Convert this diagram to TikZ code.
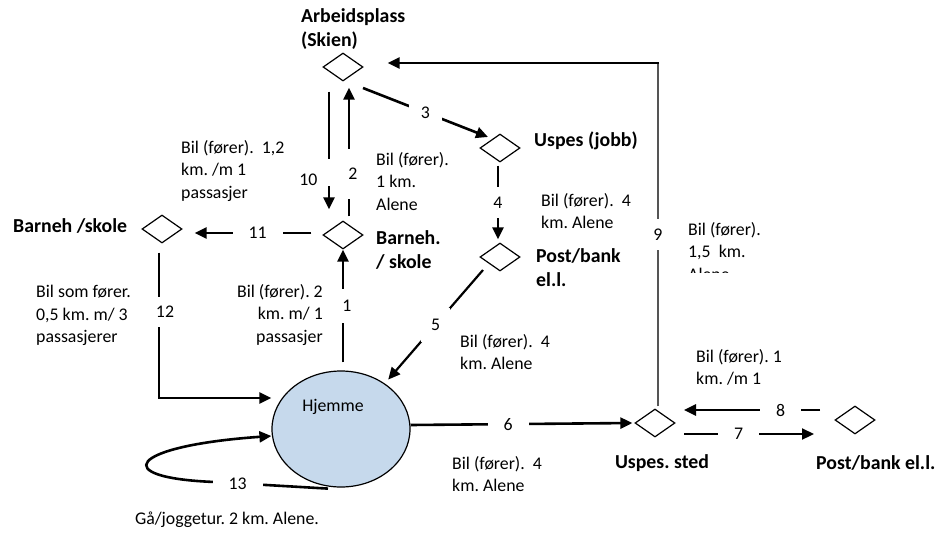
\documentclass[tikz,border=0pt]{standalone}
\usepackage{fontspec}
\setmainfont{Carlito}
\usetikzlibrary{arrows.meta,shapes.geometric,calc}
\definecolor{homefill}{RGB}{198,217,236}
\definecolor{linegray}{RGB}{85,85,85}
\frenchspacing
\begin{document}
\begin{tikzpicture}[x=1pt,y=-1pt,
  place/.style={diamond, draw, line width=1.2pt, fill=white,
    minimum width=40pt, minimum height=28pt, inner sep=0pt},
  home/.style={ellipse, draw, line width=1.2pt, fill=homefill,
    minimum width=138pt, minimum height=116pt, inner sep=0pt},
  txt/.style={inner sep=0pt, align=left, font=\fontsize{17.8}{22.5}\selectfont},
  ttl/.style={inner sep=0pt, align=left, font=\bfseries\fontsize{19.8}{24}\selectfont},
  conn/.style={line width=2.6pt},
  arr/.style={conn, -{Triangle[length=12pt,width=11pt]}},
  gap/.style={fill=white, inner xsep=16pt, inner ysep=10pt,
    font=\fontsize{17.8}{22}\selectfont}]
\useasboundingbox (0,0) rectangle (938,539);

% places
\node[place] (arb)   at (343,67)  {};
\node[place] (jobb)  at (500,148) {};
\node[place] (post)  at (500,257) {};
\node[place] (barn)  at (343,235) {};
\node[place] (skole) at (162,229) {};
\node[place] (sted)  at (655,423) {};
\node[place] (post2) at (855,420) {};
\node[home]  (hjem)  at (341,429) {};
\node[txt]   (tHjem) at (333,407) {Hjemme};

% place names
\node[ttl, anchor=north west] (tArb)   at (301,8)   {Arbeidsplass\\(Skien)};
\node[ttl, anchor=north west] (tJobb)  at (534,132) {Uspes (jobb)};
\node[ttl, anchor=north west] (tPost)  at (536,248) {Post/bank\\el.l.};
\node[ttl, anchor=north west] (tBarn)  at (376,230) {Barneh.\\/ skole};
\node[ttl, anchor=north west] (tSkole) at (13,218)  {Barneh /skole};
\node[ttl, anchor=north]      (tSted)  at (662,454) {Uspes. sted};
\node[ttl, anchor=north west] (tPost2) at (816,455) {Post/bank el.l.};

% trip descriptions
\node[txt, anchor=north west] (la) at (181,140) {Bil (fører).\ \ 1,2\\km. /m 1\\passasjer};
\node[txt, anchor=north west] (lb) at (376,152) {Bil (fører).\\1 km.\\Alene};
\node[txt, anchor=north west] (lc) at (541,193) {Bil (fører).\ \ 4\\km. Alene};
\node[txt, anchor=north west] (ld) at (36,285)  {Bil som fører.\\0,5 km. m/ 3\\passasjerer};
\node[txt, anchor=north east, align=right] (le) at (323,284) {Bil (fører). 2\\km. m/ 1\\passasjer};
\node[txt, anchor=north west] (lf) at (460,334) {Bil (fører).\ \ 4\\km. Alene};
\node[txt, anchor=north west] (lg) at (696,349) {Bil (fører). 1\\km. /m 1};
\begin{scope}
  \clip (680,210) rectangle (800,272);
  \node[txt, anchor=north west] (lh) at (688,222) {Bil (fører).\\1,5\ \ km.\\Alene};
\end{scope}
\node[txt, anchor=north west] (li) at (452,456) {Bil (fører).\ \ 4\\km. Alene};
\node[txt, anchor=north] (lj) at (227,512) {Gå/joggetur. 2 km. Alene.};

% trips
\draw[arr] ([xshift=2pt,yshift=8pt]hjem.north) --
  node[gap, xshift=4pt, inner xsep=6pt, inner ysep=11pt] {1} (barn.south);
\draw[arr] ([xshift=6pt,yshift=4pt]barn.north) --
  node[gap, pos=.33, xshift=4pt, inner xsep=3pt, minimum height=50pt] {2}
  ([xshift=6pt,yshift=-6pt]arb.south);
\draw[arr] ([xshift=20pt,yshift=-21pt]arb.center) --
  node[gap, inner xsep=12pt, inner ysep=6pt] {3} ([xshift=-12pt,yshift=11pt]jobb.center);
\draw[arr] ([xshift=-2pt,yshift=-3pt]jobb.south) --
  node[gap, inner xsep=5pt, inner ysep=10pt] {4} ([xshift=-2pt,yshift=3pt]post.north);
\draw[arr, line width=2.2pt] ([xshift=-17pt,yshift=-13pt]post.center) --
  node[gap, inner xsep=10pt, inner ysep=11pt] {5} ([xshift=-2pt,yshift=8pt]hjem.north east);
\draw[arr] ([yshift=4pt]hjem.east) --
  node[gap, pos=.44] {6} ([xshift=-2pt]sted.west);
\draw[arr, line width=2.2pt] ([xshift=29pt,yshift=-11pt]sted.center) --
  node[gap, pos=.42] {7} ([xshift=-41pt,yshift=-14pt]post2.center);
\draw[arr] ([xshift=-35pt,yshift=10pt]post2.center) --
  node[gap, pos=.29] {8} ([xshift=29pt,yshift=13pt]sted.center);
\coordinate (c9) at (658,63);
\draw[line width=1.8pt, draw=linegray] ([xshift=3pt,yshift=2pt]sted.north) --
  node[gap, inner xsep=5pt] {9} (c9);
\draw[arr] ([xshift=1pt]c9) -- ([xshift=24pt,yshift=4pt]arb.east);
\draw[arr] ([xshift=-14pt,yshift=-10pt]arb.south) --
  node[pos=.69, fill=white, inner sep=0pt, minimum width=6pt, minimum height=27pt,
    label={[txt, xshift=-6pt, yshift=-7pt]left:10}] {}
  ([xshift=-14pt,yshift=11pt]barn.north);
\draw[arr] ([xshift=-11pt,yshift=2pt]barn.west) --
  node[gap, pos=.46] {11} ([xshift=12pt,yshift=-4pt]skole.east);
\coordinate (c12) at (159,398);
\draw[line width=1.6pt] ([xshift=-3pt,yshift=-9pt]skole.south) --
  node[gap, pos=.41, xshift=6pt, inner xsep=10pt, inner ysep=9pt] {12} (c12);
\draw[arr] ([xshift=-0.8pt]c12) -- ([yshift=31pt]hjem.west);
\draw[arr] ([xshift=-13pt,yshift=-1pt]hjem.south) --
  node[gap, pos=.8] {13} (215,482)
  .. controls (108,478) and (128,446) .. ([yshift=-7pt]hjem.west);
\end{tikzpicture}
\end{document}
